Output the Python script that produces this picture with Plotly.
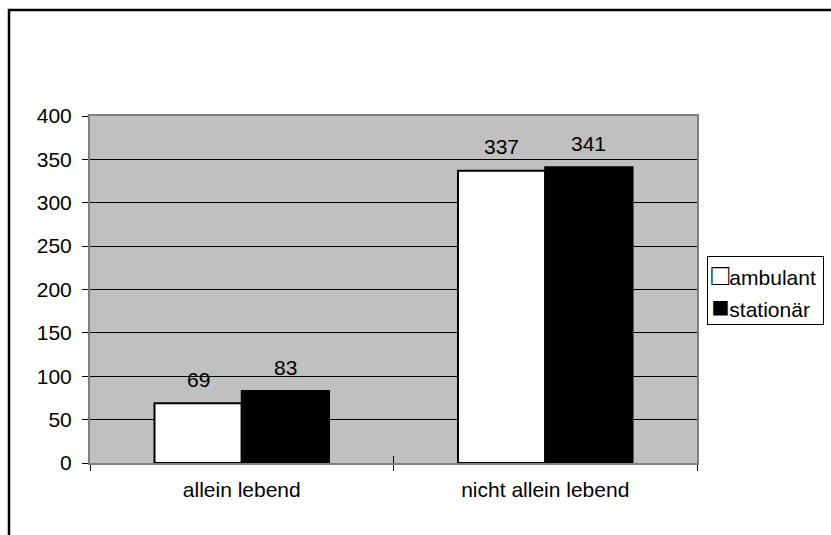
import plotly.graph_objects as go

# Data
categories = ["allein lebend", "nicht allein lebend"]
series_names = ["ambulant", "stationär"]
ambulant = [69, 337]
stationaer = [83, 341]
y_ticks = [0, 50, 100, 150, 200, 250, 300, 350, 400]

# Canvas / layout geometry (pixels)
W, H = 831, 535
M_L, M_R, M_T, M_B = 90, 134, 116, 72
PLOT_W = W - M_L - M_R
PLOT_H = H - M_T - M_B
BARGAP = 0.425

FONT = "Liberation Sans, Arial, sans-serif"
FS = 21


def px_x(px):
    """Horizontal pixel position -> paper coordinate."""
    return (px - M_L) / PLOT_W


def px_y(py):
    """Vertical pixel position (from top) -> paper coordinate."""
    return (H - M_B - py) / PLOT_H


fig = go.Figure()
fig.add_trace(go.Bar(
    name=series_names[0], x=categories, y=ambulant,
    marker=dict(color="white", line=dict(color="black", width=2)),
    showlegend=False,
))
fig.add_trace(go.Bar(
    name=series_names[1], x=categories, y=stationaer,
    marker=dict(color="black", line=dict(color="black", width=2)),
    showlegend=False,
))
# invisible carrier for the overlay axis that draws the inner half of the category ticks
fig.add_trace(go.Bar(
    x=categories, y=[0] * len(categories), xaxis="x2",
    marker=dict(opacity=0), showlegend=False, hoverinfo="skip",
))

# value labels above each bar
cat_px = PLOT_W / len(categories)
bar_px = cat_px * (1 - BARGAP) / 2
annotations = []
for vals, off in ((ambulant, -bar_px / 2), (stationaer, bar_px / 2)):
    for c, v in zip(categories, vals):
        annotations.append(dict(
            x=c, y=v, xref="x", yref="y", text=str(v), showarrow=False,
            xshift=off, yshift=24, yanchor="middle", xanchor="center",
            font=dict(family=FONT, size=FS, color="black"),
        ))

# legend box
SYM = 30
lead = '<span style="font-size:8px">&nbsp;</span>'
legend_text = (
    lead + '<span style="font-size:%dpx">□</span><span style="font-size:%dpx">ambulant </span><br>'
    + lead + '<span style="font-size:%dpx">■</span><span style="font-size:%dpx">stationär</span>'
) % (SYM, FS, SYM, FS)
annotations.append(dict(
    xref="paper", yref="paper", x=px_x(707), y=px_y(256),
    xanchor="left", yanchor="top", align="left", showarrow=False,
    text=legend_text, font=dict(family=FONT, size=24.6, color="black"),
    bordercolor="black", borderwidth=1, borderpad=1, bgcolor="white",
))

fig.update_layout(
    width=W, height=H,
    margin=dict(l=M_L, r=M_R, t=M_T, b=M_B, autoexpand=False),
    paper_bgcolor="white", plot_bgcolor="#C0C0C0",
    barmode="group", bargap=BARGAP, bargroupgap=0,
    font=dict(family=FONT, size=FS, color="black"),
    showlegend=False,
    annotations=annotations,
    shapes=[dict(
        type="rect", xref="paper", yref="paper",
        x0=px_x(9), x1=px_x(W + 20), y0=px_y(H + 20), y1=px_y(10),
        line=dict(color="black", width=2.5), fillcolor="rgba(0,0,0,0)",
    )],
    xaxis=dict(
        showline=True, mirror=True, linecolor="#808080", linewidth=2,
        ticks="outside", ticklen=6, tickcolor="black", tickson="boundaries",
        ticklabelstandoff=7, showgrid=False,
        tickfont=dict(family=FONT, size=FS, color="black"),
    ),
    xaxis2=dict(
        overlaying="x", matches="x", anchor="y", side="bottom",
        ticks="inside", ticklen=7, tickcolor="black", tickson="boundaries",
        showticklabels=False, showline=False, showgrid=False,
    ),
    yaxis=dict(
        range=[0, 400], tickvals=y_ticks,
        showline=True, mirror=True, linecolor="#808080", linewidth=2,
        ticks="outside", ticklen=6, tickcolor="black", ticklabelstandoff=6,
        showgrid=True, gridcolor="black", gridwidth=1, zeroline=False,
        tickfont=dict(family=FONT, size=FS, color="black"),
    ),
)

fig.write_html("out.html")
